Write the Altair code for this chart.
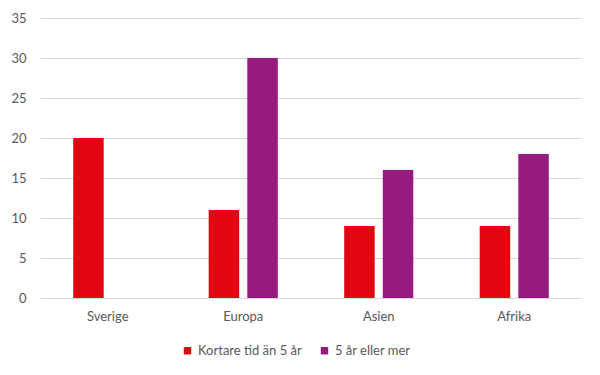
import altair as alt
import pandas as pd

categories = ["Sverige", "Europa", "Asien", "Afrika"]
series = ["Kortare tid än 5 år", "5 år eller mer"]
kortare = [20, 11, 9, 9]
langre = [None, 30, 16, 18]
colors = ["#E20613", "#951B81"]
y_ticks = [0, 5, 10, 15, 20, 25, 30, 35]

rows = []
for c, a, b in zip(categories, kortare, langre):
    if a is not None:
        rows.append({"region": c, "serie": series[0], "value": a})
    if b is not None:
        rows.append({"region": c, "serie": series[1], "value": b})
df = pd.DataFrame(rows)

font = "Lato"
gray = "#595959"

chart = alt.Chart(df).mark_bar().encode(
    x=alt.X("region:N", sort=categories, title=None,
            scale=alt.Scale(paddingInner=0.49, paddingOuter=0.245),
            axis=alt.Axis(labelAngle=0, ticks=False, domain=False, labelPadding=12,
                          labelFontSize=13, labelColor=gray, labelFont=font)),
    xOffset=alt.XOffset("serie:N", sort=series,
                        scale=alt.Scale(paddingInner=0.21, paddingOuter=0)),
    y=alt.Y("value:Q", title=None,
            scale=alt.Scale(domain=[0, 35], nice=False),
            axis=alt.Axis(values=y_ticks, ticks=False, domain=False, labelPadding=14,
                          gridColor="#D9D9D9", gridWidth=1,
                          labelFontSize=13, labelColor=gray, labelFont=font)),
    color=alt.Color("serie:N", sort=series,
                    scale=alt.Scale(domain=series, range=colors),
                    legend=alt.Legend(title=None, orient="none", direction="horizontal",
                                      legendX=141, legendY=326,
                                      symbolType="square", symbolSize=55,
                                      symbolStrokeWidth=0, labelOffset=4,
                                      columnPadding=16, labelFontSize=13,
                                      labelColor=gray, labelFont=font)),
).properties(
    width=542, height=280,
    autosize=alt.AutoSizeParams(type="none"),
    padding={"left": 32, "top": 10, "right": 10, "bottom": 68},
    background="white",
).configure_view(stroke=None)

chart.save("out.html", embed_options={"renderer": "svg", "actions": False})
